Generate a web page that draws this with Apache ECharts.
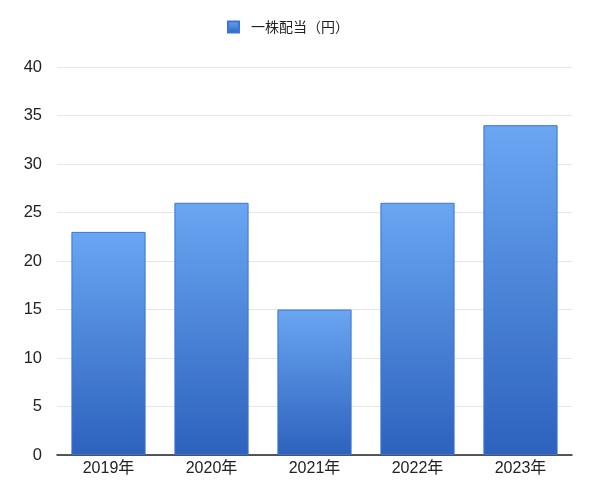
<!DOCTYPE html>
<html><head><meta charset="utf-8">
<script src="https://cdn.jsdelivr.net/npm/echarts@6/dist/echarts.min.js"></script>
<style>html,body{margin:0;padding:0;background:#fff}#c{width:600px;height:504px}</style>
</head><body><div id="c"></div>
<script>
const categories = ['2019年','2020年','2021年','2022年','2023年'];
const dividends = [23, 26, 15, 26, 34];
const seriesName = '一株配当（円）';
const yTicks = {min: 0, max: 40, interval: 5};

const chart = echarts.init(document.getElementById('c'), null, {renderer: 'canvas'});
const grad = new echarts.graphic.LinearGradient(0, 0, 0, 1, [
  {offset: 0, color: '#6aa6f2'},
  {offset: 1, color: '#2d62bd'}
]);
chart.setOption({
  animation: false,
  textStyle: {fontFamily: 'Helvetica, Arial, "Noto Sans CJK JP", sans-serif'},
  legend: {
    top: 20, left: 227, itemWidth: 11, itemHeight: 11, itemGap: 10, padding: 0,
    textStyle: {fontSize: 14, color: '#222', padding: [0, 0, 0, 7], fontFamily: '"Noto Sans CJK JP", sans-serif'},
    data: [{name: seriesName, icon: 'rect'}]
  },
  grid: {left: 57, right: 28, top: 67, bottom: 49, containLabel: false},
  xAxis: {
    type: 'category', data: categories,
    axisLine: {lineStyle: {color: '#222', width: 1.5}},
    axisTick: {show: false},
    axisLabel: {fontSize: 16, color: '#222', margin: 6, fontFamily: 'Helvetica, Arial, "Noto Sans CJK JP", sans-serif'}
  },
  yAxis: {
    type: 'value', min: yTicks.min, max: yTicks.max, interval: yTicks.interval,
    axisLine: {show: false}, axisTick: {show: false},
    axisLabel: {fontSize: 16.5, color: '#222', margin: 15},
    splitLine: {lineStyle: {color: '#e6e6e6', width: 1}}
  },
  series: [{
    name: seriesName, type: 'bar', data: dividends,
    barCategoryGap: '28%',
    itemStyle: {color: grad, borderColor: '#3a74d8', borderWidth: 1}
  }]
});
</script></body></html>
